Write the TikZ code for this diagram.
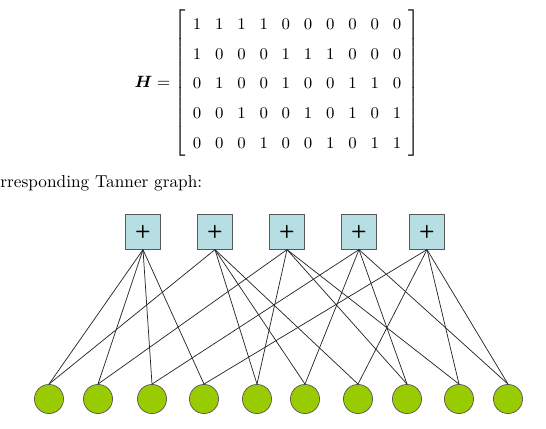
\documentclass[tikz,border=0pt]{standalone}
\usepackage{amsmath}
\usepackage{xcolor}
\definecolor{checkblue}{RGB}{183,223,227}
\definecolor{bitgreen}{RGB}{153,204,0}

\begin{document}
\begin{tikzpicture}[x=0.55pt, y=0.55pt,
	check/.style={draw=black!65, fill=checkblue, rectangle, minimum size=19pt, inner sep=0pt, font=\sffamily\bfseries},
	bit/.style={draw=black!65, fill=bitgreen, circle, minimum size=16pt, inner sep=0pt},
	edge/.style={black!85, line width=0.4pt}]
	\useasboundingbox (0,0) rectangle (546,429);
	% parity-check matrix
	\node[font=\fontsize{9.5}{11.4}\selectfont] (Hmat) at (277,346) {%
		\renewcommand{\arraystretch}{1.44}\setlength{\arraycolsep}{3.8pt}%
		$\boldsymbol{H} = \left[\begin{array}{cccccccccc}
		1 & 1 & 1 & 1 & 0 & 0 & 0 & 0 & 0 & 0\\
		1 & 0 & 0 & 0 & 1 & 1 & 1 & 0 & 0 & 0\\
		0 & 1 & 0 & 0 & 1 & 0 & 0 & 1 & 1 & 0\\
		0 & 0 & 1 & 0 & 0 & 1 & 0 & 1 & 0 & 1\\
		0 & 0 & 0 & 1 & 0 & 0 & 1 & 0 & 1 & 1
		\end{array}\right]$};
	\node[anchor=base west, inner sep=0pt, font=\fontsize{9.5}{11.4}\selectfont] (caption) at (0,241) {rresponding Tanner graph:};
	% check nodes
	\node[check] (C1) at (143,197) {+};
	\node[check] (C2) at (215,197) {+};
	\node[check] (C3) at (287,197) {+};
	\node[check] (C4) at (359,197) {+};
	\node[check] (C5) at (427,197) {+};
	% variable nodes
	\node[bit] (V1) at (49,30) {};
	\node[bit] (V2) at (98,30) {};
	\node[bit] (V3) at (152,30) {};
	\node[bit] (V4) at (204,30) {};
	\node[bit] (V5) at (257,30) {};
	\node[bit] (V6) at (305,30) {};
	\node[bit] (V7) at (358,30) {};
	\node[bit] (V8) at (407,30) {};
	\node[bit] (V9) at (459,30) {};
	\node[bit] (V10) at (508,30) {};
	% edges
	\draw[edge] (C1.south) -- (V1.north);
	\draw[edge] (C1.south) -- (V2.north);
	\draw[edge] (C1.south) -- (V3.north);
	\draw[edge] (C1.south) -- (V4.north);
	\draw[edge] (C2.south) -- (V1.north);
	\draw[edge] (C2.south) -- (V5.north);
	\draw[edge] (C2.south) -- (V6.north);
	\draw[edge] (C2.south) -- (V7.north);
	\draw[edge] (C3.south) -- (V2.north);
	\draw[edge] (C3.south) -- (V5.north);
	\draw[edge] (C3.south) -- (V8.north);
	\draw[edge] (C3.south) -- (V9.north);
	\draw[edge] (C4.south) -- (V3.north);
	\draw[edge] (C4.south) -- (V6.north);
	\draw[edge] (C4.south) -- (V8.north);
	\draw[edge] (C4.south) -- (V10.north);
	\draw[edge] (C5.south) -- (V4.north);
	\draw[edge] (C5.south) -- (V7.north);
	\draw[edge] (C5.south) -- (V9.north);
	\draw[edge] (C5.south) -- (V10.north);
\end{tikzpicture}
\end{document}
